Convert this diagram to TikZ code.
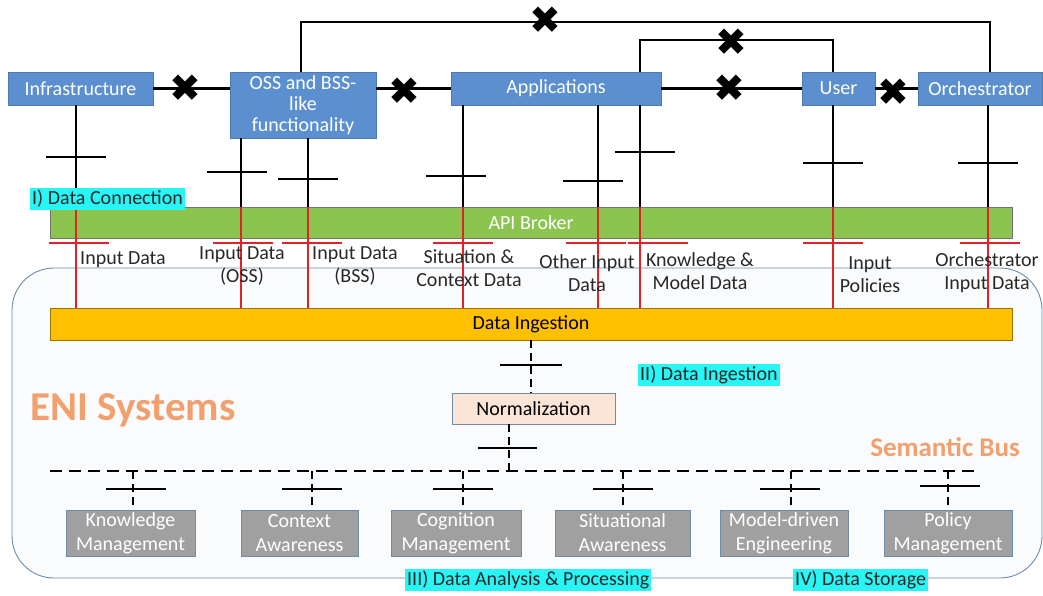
\documentclass[tikz,border=0pt]{standalone}
\usepackage{fontspec}
\setmainfont{Carlito}
\newfontfamily\djv{DejaVu Sans}
\definecolor{boxblue}{RGB}{91,143,207}
\definecolor{apigreen}{RGB}{139,197,80}
\definecolor{ingest}{RGB}{255,192,0}
\definecolor{normfill}{RGB}{251,229,214}
\definecolor{modgrey}{RGB}{160,160,160}
\definecolor{enifill}{RGB}{250,251,253}
\definecolor{eniline}{RGB}{110,140,170}
\definecolor{cyanlbl}{RGB}{40,245,245}
\definecolor{redln}{RGB}{225,35,40}
\definecolor{eniorange}{RGB}{242,160,110}
\definecolor{lbltext}{RGB}{40,40,40}
\tikzset{
  txt/.style={font=\fontsize{20}{23}\selectfont},
  bluebox/.style={txt, fill=boxblue, draw=boxblue!85!black, line width=0.8pt, text=white, inner sep=0pt, align=center},
  bar/.style={txt, draw=black!55, line width=0.8pt, inner sep=0pt},
  module/.style={txt, font=\fontsize{20}{24}\selectfont, fill=modgrey, draw=eniline, line width=0.8pt, text=white, inner sep=0pt, align=center, minimum height=46pt},
  conn/.style={line width=2.2pt, black},
  tickb/.style={line width=2.2pt, black},
  redl/.style={line width=1.6pt, redln},
  dashv/.style={line width=2.2pt, black, dash pattern=on 8pt off 5pt},
  dashbus/.style={line width=2.4pt, black, dash pattern=on 12pt off 7pt},
  xmark/.style={font=\djv\fontsize{38}{38}\selectfont, inner sep=0pt, text=black},
  lbl/.style={txt, text=lbltext, align=center, inner sep=0pt},
  cyantag/.style={txt, fill=cyanlbl, text=lbltext, inner sep=2pt},
}
\begin{document}
\begin{tikzpicture}[x=1pt,y=-1pt]
\useasboundingbox (0,0) rectangle (1043,595);
% ENI systems background
\draw[fill=enifill, draw=eniline, line width=0.9pt, rounded corners=42pt] (12,268) rectangle (1042,578);

% top boxes
\node[bluebox, minimum width=145pt, minimum height=33pt] (infra) at (80.5,88.5) {Infrastructure};
\node[bluebox, minimum width=146pt, minimum height=66pt, font=\fontsize{20}{21}\selectfont] (oss) at (303,105) {OSS and BSS-\\like\\functionality};
\node[bluebox, minimum width=210pt, minimum height=33pt] (apps) at (556,88.5) {Applications};
\node[bluebox, minimum width=73pt, minimum height=33pt] (user) at (838.5,88.5) {User};
\node[bluebox, minimum width=124pt, minimum height=33pt] (orch) at (980,88.5) {Orchestrator};

% bars
\node[bar, fill=apigreen, text=white, minimum width=962pt, minimum height=31pt] (api) at (531,222.5) {API Broker};
\node[bar, fill=ingest, draw=ingest!60!black, text=black, minimum width=962pt, minimum height=32pt] (ing) at (531,324) {Data Ingestion};

% x coordinates of vertical connectors
\coordinate (vA) at (76,0);
\coordinate (vB) at (241,0);
\coordinate (vC) at (308,0);
\coordinate (vD) at (463,0);
\coordinate (vE) at (598,0);
\coordinate (vF) at (640,0);
\coordinate (vG) at (833,0);
\coordinate (vH) at (988,0);
\coordinate (loopA) at (0,22);
\coordinate (loopB) at (0,40);
\coordinate (vTop) at (301,0);
\coordinate (vOr) at (990,0);

% top loops
\draw[conn] (oss.north -| vTop) -- (vTop |- loopA) -- (vOr |- loopA) -- (orch.north -| vOr);
\draw[conn] (apps.north -| vF) -- (vF |- loopB) -- (vG |- loopB) -- (user.north -| vG);
\node[xmark] (x1) at (545,20) {✖};
\node[xmark] (x2) at (731,42) {✖};

% horizontal links
\draw[conn] (infra.east) -- (infra.east -| oss.west);
\draw[conn] (apps.west -| oss.east) -- (apps.west);
\draw[conn] (apps.east) -- (user.west);
\draw[conn] (user.east) -- (orch.west);
\node[xmark] (x3) at (185,88) {✖};
\node[xmark] (x4) at (404,91) {✖};
\node[xmark] (x5) at (729,88) {✖};
\node[xmark] (x6) at (893,92) {✖};

% vertical black connectors to API broker
\draw[conn] (infra.south -| vA) -- (api.north -| vA);
\draw[conn] (oss.south -| vB) -- (api.north -| vB);
\draw[conn] (oss.south -| vC) -- (api.north -| vC);
\draw[conn] (apps.south -| vD) -- (api.north -| vD);
\draw[conn] (apps.south -| vE) -- (api.north -| vE);
\draw[conn] (apps.south -| vF) -- (api.north -| vF);
\draw[conn] (user.south -| vG) -- (api.north -| vG);
\draw[conn] (orch.south -| vH) -- (api.north -| vH);

% black ticks
\foreach \x/\y in {76/157, 237/172, 308/179, 456/176, 593/181, 645/152, 833/163, 988/163}
  \draw[tickb] (\x-30,\y) -- (\x+30,\y);

% red connectors from API broker to Data Ingestion
\foreach \c in {vA,vB,vC,vD,vE,vF,vG,vH}
  \draw[redl] (api.north -| \c) -- (ing.north -| \c);
\foreach \x in {79,243,312,463,596,658,833,990}
  \draw[redl] (\x-30,243) -- (\x+30,243);

% labels of data flows
\node[lbl] (l1) at (123,260) {Input Data};
\node[lbl] (l2) at (242,266) {Input Data\\(OSS)};
\node[lbl] (l3) at (355,266) {Input Data\\(BSS)};
\node[lbl] (l4) at (469,268) {Situation \&\\Context Data};
\node[lbl] (l5) at (587,273) {Other Input\\Data};
\node[lbl] (l6) at (700,271) {Knowledge \&\\Model Data};
\node[lbl] (l7) at (870,275) {Input\\Policies};
\node[lbl] (l8) at (987,273) {Orchestrator\\Input Data};

% phase tags
\node[cyantag, anchor=west] (t1) at (30,199) {I) Data Connection};
\node[cyantag, anchor=west] (t2) at (638,375) {II) Data Ingestion};
\node[cyantag, anchor=west] (t3) at (405,580) {III) Data Analysis \& Processing};
\node[cyantag, anchor=west] (t4) at (793,580) {IV) Data Storage};

% ENI titles
\node[font=\bfseries\fontsize{41}{41}\selectfont, text=eniorange, anchor=west, inner sep=0pt] (eni) at (30,410) {ENI Systems};
\node[font=\bfseries\fontsize{27}{27}\selectfont, text=eniorange, anchor=east, inner sep=0pt] (sbus) at (1020,447) {Semantic Bus};

% normalization
\node[txt, fill=normfill, draw=eniline, line width=0.8pt, minimum width=163pt, minimum height=31pt, inner sep=0pt] (norm) at (533.5,408.5) {Normalization};
\coordinate (vN1) at (531,0);
\coordinate (vN2) at (509,0);
\coordinate (busy) at (0,471);
\draw[dashv] (ing.south -| vN1) -- (norm.north -| vN1);
\draw[tickb] (500,365) -- (562,365);
\draw[dashv] (norm.south -| vN2) -- (vN2 |- busy);
\draw[tickb] (478,448) -- (537,448);

% semantic bus
\coordinate (busL) at (50,471);
\coordinate (busR) at (975,471);
\draw[dashbus] (busL) -- (busR);

% modules
\node[module, minimum width=129pt] (m1) at (130.5,533) {Knowledge\\Management};
\node[module, minimum width=117pt] (m2) at (299.5,533) {Context\\Awareness};
\node[module, minimum width=130pt] (m3) at (456,533) {Cognition\\Management};
\node[module, minimum width=135pt] (m4) at (622.5,533) {Situational\\Awareness};
\node[module, minimum width=128pt] (m5) at (784,533) {Model-driven\\Engineering};
\node[module, minimum width=128pt] (m6) at (948,533) {Policy\\Management};

\coordinate (d1) at (133,0);
\coordinate (d2) at (312,0);
\coordinate (d3) at (463,0);
\coordinate (d4) at (623,0);
\coordinate (d5) at (791,0);
\coordinate (d6) at (948,0);
\draw[dashv] (d1 |- busy) -- (m1.north -| d1);
\draw[dashv] (d2 |- busy) -- (m2.north -| d2);
\draw[dashv] (d3 |- busy) -- (m3.north -| d3);
\draw[dashv] (d4 |- busy) -- (m4.north -| d4);
\draw[dashv] (d5 |- busy) -- (m5.north -| d5);
\draw[dashv] (d6 |- busy) -- (m6.north -| d6);
\foreach \x/\y in {136/489, 312/489, 463/489, 623/489, 790/489, 950/486}
  \draw[tickb] (\x-30,\y) -- (\x+30,\y);
\end{tikzpicture}
\end{document}
